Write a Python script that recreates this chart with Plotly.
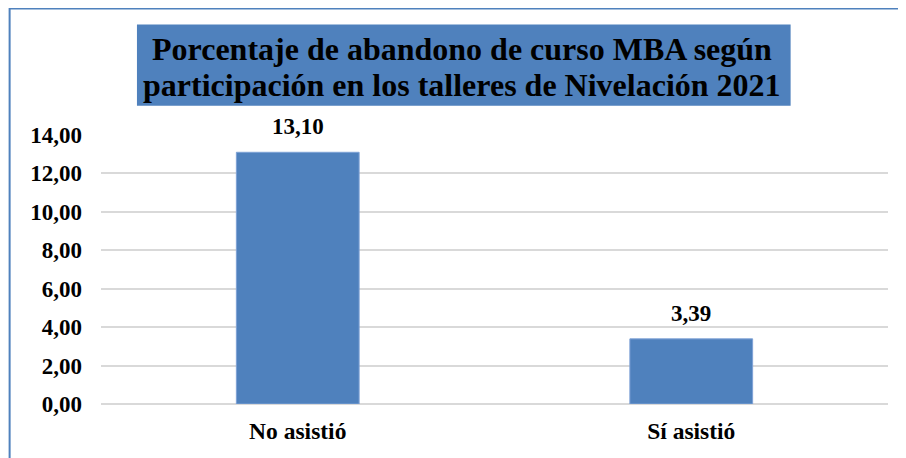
import plotly.graph_objects as go

categories = ["No asistió", "Sí asistió"]
values = [13.10, 3.39]
title_lines = ["Porcentaje de abandono de curso MBA según",
               "participación en los talleres de Nivelación 2021"]

BLUE = "#4F81BD"
FONT = "Liberation Serif"

OFF = 8  # page body margin
W, H = 906 - OFF, 458 - OFF
L, R, T, B = 100.5 - OFF, 17.5, 135.3 - OFF, 54.3
PW, PH = W - L - R, H - T - B

def px(x):
    return (x - OFF - L) / PW

def py(y):
    return (H - B - (y - OFF)) / PH

fig = go.Figure(go.Bar(
    x=categories, y=values,
    marker=dict(color=BLUE, line=dict(color="#7FA2D6", width=1)),
    width=0.312,
    hoverinfo="skip",
))

annotations = []
for c, v in zip(categories, values):
    annotations.append(dict(
        x=c, y=v, xref="x", yref="y", text=f"<b>{v:.2f}</b>".replace(".", ","),
        showarrow=False, yanchor="bottom", yshift=11,
        font=dict(family=FONT, size=23, color="black"),
    ))
for line, yc in zip(title_lines, [49.5, 85.5]):
    annotations.append(dict(
        x=px(462), y=py(yc), xref="paper", yref="paper",
        text="<b>" + line + "</b>",
        showarrow=False, xanchor="center", yanchor="middle",
        font=dict(family=FONT, size=32, color="black"),
    ))

shapes = [
    dict(type="rect", xref="paper", yref="paper",
         x0=px(9), x1=px(912), y0=py(9), y1=py(465),
         line=dict(color=BLUE, width=2), fillcolor="rgba(0,0,0,0)", layer="below"),
    dict(type="rect", xref="paper", yref="paper",
         x0=px(136.5), x1=px(791), y0=py(25), y1=py(106),
         line=dict(width=0), fillcolor=BLUE, layer="below"),
]

fig.update_layout(
    width=W, height=H,
    margin=dict(l=L, r=R, t=T, b=B, autoexpand=False),
    paper_bgcolor="white", plot_bgcolor="white",
    separators=",.",
    showlegend=False,
    annotations=annotations,
    shapes=shapes,
)
fig.update_yaxes(
    range=[0, 14], dtick=2, tickformat=".2f",
    showgrid=True, gridcolor="#D9D9D9", gridwidth=2,
    zeroline=True, zerolinecolor="#D9D9D9", zerolinewidth=2,
    showline=False, ticks="", ticklabelstandoff=18,
    tickfont=dict(family=FONT, size=23, color="black", weight="bold"),
    fixedrange=True,
)
fig.update_xaxes(
    range=[-0.5, 1.5], showgrid=False, showline=False, ticks="",
    ticklabelstandoff=10,
    tickfont=dict(family=FONT, size=23.5, color="black", weight="bold"),
    fixedrange=True,
)

fig.write_html("out.html")
